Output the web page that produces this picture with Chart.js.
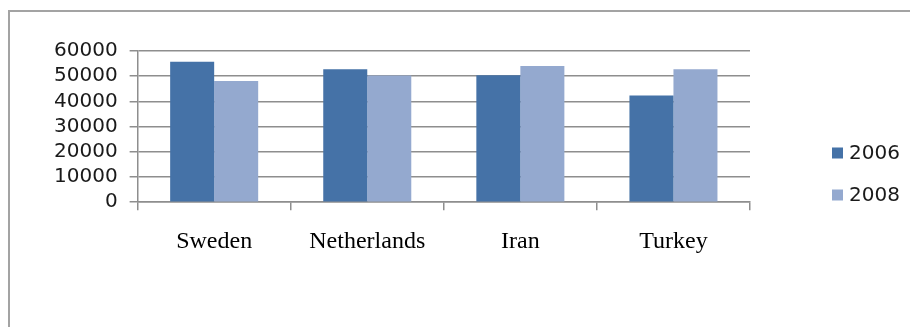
<!DOCTYPE html>
<html>
<head>
<meta charset="utf-8">
<script src="https://cdn.jsdelivr.net/npm/chart.js@4/dist/chart.umd.min.js"></script>
<style>
  html, body { margin: 0; padding: 0; background: #fff; }
  #wrap { width: 910px; height: 327px; position: relative; }
</style>
</head>
<body>
<div id="wrap"><canvas id="myChart" width="910" height="327"></canvas></div>
<script>
// countries and values per year
const countries = ["Sweden", "Netherlands", "Iran", "Turkey"];
const years = ["2006", "2008"];
const values2006 = [55700, 52800, 50400, 42300];
const values2008 = [48100, 50300, 54000, 52800];
const yTicks = [0, 10000, 20000, 30000, 40000, 50000, 60000];

const colors = ["#4572a7", "#94a9cf"];

// frame lines on the left and top
const framePlugin = {
  id: "frame",
  beforeDraw(chart) {
    const ctx = chart.ctx;
    ctx.save();
    ctx.strokeStyle = "#a3a3a3";
    ctx.lineWidth = 2;
    ctx.beginPath();
    ctx.moveTo(9, chart.height);
    ctx.lineTo(9, 11);
    ctx.lineTo(chart.width, 11);
    ctx.stroke();
    ctx.restore();
  }
};

// legend at the right side, square marker + label
const sideLegend = {
  id: "sideLegend",
  afterDraw(chart) {
    const ctx = chart.ctx;
    ctx.save();
    ctx.font = "20px 'DejaVu Sans'";
    ctx.textBaseline = "middle";
    chart.data.datasets.forEach((ds, i) => {
      const y = 153 + i * 42;
      ctx.fillStyle = ds.backgroundColor;
      ctx.fillRect(832, y - 5.5, 11, 11);
      ctx.fillStyle = "#1a1a1a";
      ctx.fillText(ds.label, 849, y + 1);
    });
    ctx.restore();
  }
};

let myBarChart = new Chart("myChart", {
  type: "bar",
  data: {
    labels: countries,
    datasets: [
      {
        label: years[0],
        data: values2006,
        backgroundColor: colors[0],
        borderWidth: 0,
        categoryPercentage: 0.575,
        barPercentage: 1.0,
      },
      {
        label: years[1],
        data: values2008,
        backgroundColor: colors[1],
        borderWidth: 0,
        categoryPercentage: 0.575,
        barPercentage: 1.0,
      },
    ],
  },
  options: {
    responsive: false,
    animation: false,
    layout: { padding: { left: 42, right: 160, top: 51, bottom: 54 } },
    plugins: {
      legend: { display: false },
      title: { display: false },
      tooltip: { enabled: false },
    },
    scales: {
      x: {
        grid: {
          offset: true,
          drawOnChartArea: false,
          tickLength: 8,
          color: "#8e8e8e",
          lineWidth: 1.5,
        },
        border: { color: "#8e8e8e", width: 1.5 },
        ticks: {
          padding: 17,
          color: "#000",
          font: { family: "'Liberation Serif'", size: 24 },
        },
      },
      y: {
        min: 0,
        max: 60000,
        afterBuildTicks(scale) {
          scale.ticks = yTicks.map((v) => ({ value: v }));
        },
        grid: {
          tickLength: 8,
          color: "#8e8e8e",
          lineWidth: 1.5,
        },
        border: { color: "#8e8e8e", width: 1.5 },
        ticks: {
          autoSkip: false,
          padding: 12,
          color: "#1a1a1a",
          font: { family: "'DejaVu Sans'", size: 20, lineHeight: 1 },
          callback: (v) => String(v),
        },
      },
    },
  },
  plugins: [framePlugin, sideLegend],
});
</script>
</body>
</html>
